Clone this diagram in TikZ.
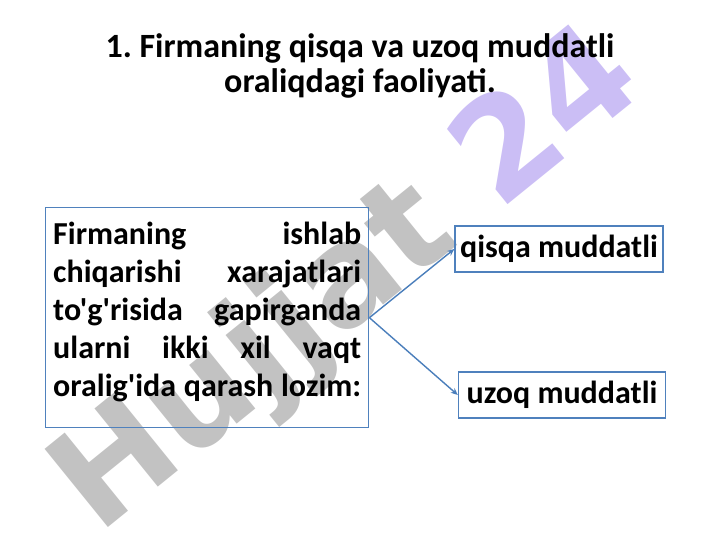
\documentclass[tikz,border=0pt]{standalone}
\usepackage{fontspec}
\setmainfont{Carlito}[Ligatures=TeXOff]
\newfontfamily\wmfont{DejaVu Sans}
\usetikzlibrary{arrows.meta}
\definecolor{boxblue}{HTML}{4F81BD}
\definecolor{arrblue}{HTML}{4A7EBB}
\definecolor{wmgray}{HTML}{C2C2C2}
\definecolor{wmpurple}{HTML}{CBBEF5}
\frenchspacing
\tikzset{
  box/.style={draw=boxblue, line width=1.4pt, inner sep=0pt},
  lbl/.style={font=\fontsize{32}{38}\selectfont\bfseries},
  conn/.style={draw=arrblue, line width=1.4pt, -{Stealth[length=7pt,width=6pt]}},
  wm/.style={font=\fontsize{138}{138}\selectfont\wmfont\bfseries, rotate=39, inner sep=0pt}
}
\begin{document}
\begin{tikzpicture}[x=1pt,y=-1pt]
\useasboundingbox (0,0) rectangle (720,540);
% watermark
\node[wm] (wmark) at (350,284) {\textcolor{wmgray}{Hujjat} \textcolor{wmpurple}{24}};
% title
\node[font=\fontsize{34}{35}\selectfont\bfseries, align=center] (title) at (360,66)
  {1. Firmaning qisqa va uzoq muddatli\\ oraliqdagi faoliyati.};
% left box
\node[box, anchor=north west, minimum width=323pt, minimum height=220pt] (main) at (45,207) {};
\node[lbl, text width=308pt, align=left] (maintext) at ([yshift=6pt]main.center)
  {Firmaning \hfill ishlab\\
   chiqarishi \hfill xarajatlari\\
   to'g'risida \hfill gapirganda\\
   ularni \hfill ikki \hfill xil \hfill vaqt\\
   \makebox[308pt][s]{oralig'ida\hspace{6pt plus 4pt minus 2pt}qarash\hspace{6pt plus 4pt minus 2pt}lozim:}};
% right boxes
\node[box, lbl, minimum width=208pt, minimum height=46pt] (short) at (559,249) {qisqa muddatli};
\node[box, lbl, minimum width=207pt, minimum height=46pt] (long) at (562,395) {uzoq muddatli};
% connectors
\draw[conn] (main.east) -- (short.west);
\draw[conn] (main.east) -- (long.west);
\end{tikzpicture}
\end{document}
